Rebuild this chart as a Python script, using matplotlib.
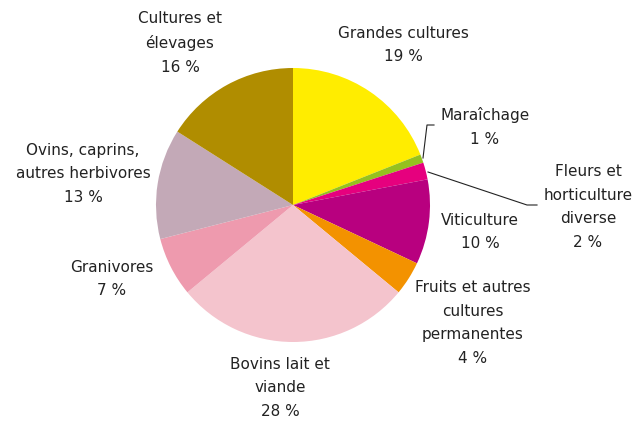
import matplotlib
matplotlib.use('Agg')
from matplotlib import pyplot as plt

# shares of farms by orientation (%), clockwise from 12 o'clock
labels = ['Grandes cultures', 'Maraîchage', 'Fleurs et\nhorticulture\ndiverse',
          'Viticulture', 'Fruits et autres\ncultures\npermanentes',
          'Bovins lait et\nviande', 'Granivores',
          'Ovins, caprins,\nautres herbivores', 'Cultures et\nélevages']
values = [19, 1, 2, 10, 4, 28, 7, 13, 16]
colors = ['#FFED00', '#95C11F', '#E6007E', '#B8007F', '#F39200',
          '#F4C4CD', '#EE9AAE', '#C3A9B7', '#B08D00']

# label centres in pixel coords (from the top-left)
label_pos = [(403, 45), (485, 127), (588, 207), (480, 232), (473, 323),
             (280, 388), (112, 279), (83, 174), (180, 43)]

W, H = 637, 421
fig = plt.figure(figsize=(W / 100, H / 100), dpi=100)
ax = fig.add_axes([0, 0, 1, 1])

ax.pie(values, colors=colors, startangle=90, counterclock=False,
       center=(293, H - 205), radius=137, frame=True)
ax.set_xlim(0, W)
ax.set_ylim(0, H)
ax.set_aspect('equal')
ax.axis('off')

for lab, v, (x, y) in zip(labels, values, label_pos):
    ax.text(x, H - y, lab + '\n' + str(v) + ' %', ha='center', va='center',
            fontsize=11, color='#222222', linespacing=1.7,
            family='DejaVu Sans')

# leader lines for the two thin slices
ax.plot([423, 427, 434], [H - 158, H - 125, H - 125], color='#222222', lw=0.8)
ax.plot([428, 527, 537], [H - 172, H - 205, H - 205], color='#222222', lw=0.8)

fig.savefig('out.png', dpi=100)
